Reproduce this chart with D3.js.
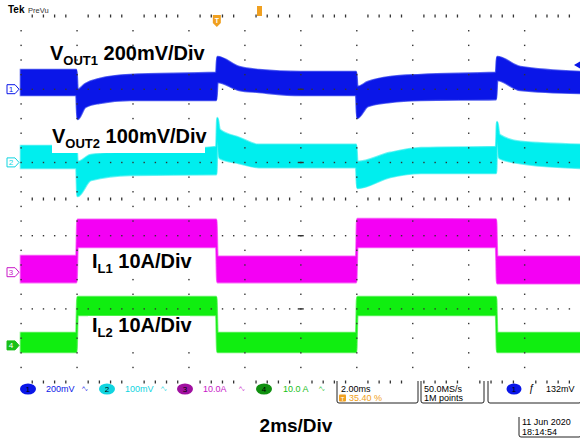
<!DOCTYPE html>
<html>
<head>
<meta charset="utf-8">
<title>Scope capture</title>
<script src="https://cdn.jsdelivr.net/npm/d3@7"></script>
<style>
  body { margin: 0; background: #fff; }
  svg { display: block; }
  .scope { font-family: "Liberation Sans", Arial, sans-serif; }
  .lbl { font-family: "Liberation Sans", Arial, sans-serif; font-weight: bold; fill: #000; }
</style>
</head>
<body>
<script>
// time in ms (2 ms/div), channel values in their own units
var ch1Time = [0, 1.98, 2.02, 2.3, 2.8, 3.9, 6.98, 7.02, 7.8, 8.5, 10, 11.98, 12.02, 12.4, 13.2, 14.3, 16.98, 17.02, 17.85, 20];
var ch1Max  = [105, 105, -4, 28, 56, 78, 89, 176, 121, 105, 94, 94, 12, 39, 67, 78, 89, 176, 121, 94];   // mV
var ch1Min  = [-32, -32, -163, -97, -75, -59, -59, 39, -4, -15, -32, -32, -157, -92, -70, -59, -54, 50, -4, -21];

var ch2Time = [0, 1.98, 2.02, 2.5, 3.9, 6.98, 7.02, 7.1, 7.8, 8.5, 11.98, 12.02, 13.2, 14.3, 16.98, 17.02, 17.1, 17.85, 20];
var ch2Max  = [45, 45, 1, 20, 28, 42, 121, 89, 67, 48, 48, 1, 26, 39, 42, 110, 75, 56, 48];   // mV
var ch2Min  = [-15, -15, -92, -48, -34, -32, 61, 12, -2, -13, -13, -70, -40, -29, -29, 61, 12, -2, -15];

var ilTime = [0, 1.98, 2.02, 6.98, 7.02, 11.98, 12.02, 16.98, 17.02, 20];
var ch3Max = [4.4, 4.4, 14.3, 14.3, 4.2, 4.2, 14.5, 14.4, 4.2, 4.2];   // A
var ch3Min = [-2.7, -2.7, 6.9, 6.9, -2.7, -2.7, 6.9, 6.9, -3.0, -3.0];
var ch4Max = [3.4, 3.4, 13.2, 13.2, 3.4, 3.4, 13.2, 13.2, 3.4, 3.4];   // A
var ch4Min = [-1.8, -1.8, 8.3, 8.3, -1.8, -1.8, 8.3, 8.3, -1.8, -1.8];

var chNames  = ["1", "2", "3", "4"];
var chScales = ["200mV", "100mV", "10.0A", "10.0 A"];
var trigLevel = 132; // mV on ch1

var width = 580, height = 439;

// screen: 10 divisions across, 10 divisions high
var x = d3.scaleLinear().domain([0, 20]).range([21, 580.5]);
var y = d3.scaleLinear().domain([-5, 5]).range([382, 16]);

var channels = [
  {t: ch1Time, max: ch1Max, min: ch1Min, off: 3,  perDiv: 200, color: "#0a16e8", edge: "#5a66f0", dark: "#0a16e8"},
  {t: ch2Time, max: ch2Max, min: ch2Min, off: 1,  perDiv: 100, color: "#00eeee", edge: "#70f4f4", dark: "#10d4e0"},
  {t: ilTime,  max: ch3Max, min: ch3Min, off: -2, perDiv: 10,  color: "#f400f4", edge: "#f870f8", dark: "#c818c8"},
  {t: ilTime,  max: ch4Max, min: ch4Min, off: -4, perDiv: 10,  color: "#10ee10", edge: "#78f478", dark: "#18c018"}
];

var svg = d3.select("body").append("svg")
    .attr("width", width)
    .attr("height", height)
    .attr("class", "scope");

// traces (lighter fringe underneath for the noisy edge)
channels.forEach(function(c) {
  var pts = c.t.map(function(t, i) { return {t: t, hi: c.max[i], lo: c.min[i]}; });
  var area = d3.area()
      .x(function(d) { return x(d.t); })
      .y0(function(d) { return y(c.off + d.lo / c.perDiv); })
      .y1(function(d) { return y(c.off + d.hi / c.perDiv); })
      .curve(d3.curveMonotoneX);
  svg.append("path")
      .datum(pts)
      .attr("d", area)
      .attr("fill", c.edge)
      .attr("stroke", c.edge)
      .attr("stroke-width", 2.6);
  svg.append("path")
      .datum(pts)
      .attr("d", area)
      .attr("fill", c.color)
      .attr("stroke", c.color)
      .attr("stroke-width", 0.8);
});

// graticule
var grid = svg.append("g").attr("fill", "#333");
var majorT = d3.range(0, 20, 2);
var minorT = d3.range(0, 50).map(function(k) { return k * 0.4; }).filter(function(t) { return Math.abs(t / 2 - Math.round(t / 2)) > 0.01; });
var vDots = d3.range(1, 25).map(function(n) { return 5 - 0.4 * n; });

majorT.forEach(function(t) {
  vDots.forEach(function(v) {
    grid.append("rect").attr("x", x(t) - 0.6).attr("y", y(v) - 0.6).attr("width", 1.4).attr("height", 1.4);
  });
});
[3, 1, -1, -3].forEach(function(v) {
  minorT.forEach(function(t) {
    grid.append("rect").attr("x", x(t) - 0.6).attr("y", y(v) - 0.6).attr("width", 1.4).attr("height", 1.4);
  });
  grid.append("rect").attr("x", x(10) - 3).attr("y", y(v) - 0.6).attr("width", 6).attr("height", 1.4);
});
[5, 0, -5].forEach(function(v) {
  minorT.forEach(function(t) {
    grid.append("rect").attr("x", x(t) - 0.6).attr("y", y(v) - 1.5).attr("width", 1.3).attr("height", 3);
  });
});

// channel labels with white boxes
var labels = [
  {main: "V", sub: "OUT1", rest: " 200mV/Div", x: 50, y: 60, box: null},
  {main: "V", sub: "OUT2", rest: " 100mV/Div", x: 52, y: 143, box: [52, 126, 153, 27]},
  {main: "I", sub: "L1", rest: " 10A/Div", x: 92, y: 268, box: [88, 249, 102, 26]},
  {main: "I", sub: "L2", rest: " 10A/Div", x: 92, y: 332, box: [88, 316, 102, 23]}
];
labels.forEach(function(l) {
  if (l.box) {
    svg.append("rect").attr("x", l.box[0]).attr("y", l.box[1]).attr("width", l.box[2]).attr("height", l.box[3]).attr("fill", "#fff");
  }
  var t = svg.append("text").attr("class", "lbl").attr("x", l.x).attr("y", l.y).attr("font-size", 20);
  t.append("tspan").text(l.main);
  t.append("tspan").attr("font-size", 13).attr("dy", 5).text(l.sub);
  t.append("tspan").attr("dy", -5).text(l.rest);
});

// ground markers on the left
channels.forEach(function(c, i) {
  var yy = y(c.off);
  svg.append("path")
      .attr("d", "M7," + (yy - 4.5) + "H15L19," + yy + "L15," + (yy + 4.5) + "H7Z")
      .attr("fill", i == 3 ? c.dark : "#fff")
      .attr("stroke", c.dark)
      .attr("stroke-width", 1);
  svg.append("text").attr("x", 11).attr("y", yy + 3).attr("text-anchor", "middle")
      .attr("font-size", 8).attr("fill", i == 3 ? "#fff" : c.dark).text(chNames[i]);
});

// trigger level marker at right edge
var ty = y(channels[0].off + trigLevel / channels[0].perDiv);
svg.append("path").attr("d", "M574," + ty + "L580," + (ty - 3.5) + "V" + (ty + 3.5) + "Z").attr("fill", "#0a16e8");

// top bar
svg.append("text").attr("x", 8).attr("y", 13).attr("font-size", 10).attr("font-weight", "bold").text("Tek");
svg.append("text").attr("x", 28).attr("y", 13).attr("font-size", 7.5).attr("fill", "#333").text("PreVu");
var trigX = x(7);
svg.append("path").attr("d", "M" + (trigX - 4) + ",15H" + (trigX + 4) + "V23L" + trigX + ",27L" + (trigX - 4) + ",23Z").attr("fill", "#f0a020");
svg.append("text").attr("x", trigX).attr("y", 23).attr("text-anchor", "middle").attr("font-size", 7).attr("font-weight", "bold").attr("fill", "#fff").text("T");
svg.append("rect").attr("x", 257).attr("y", 6).attr("width", 5).attr("height", 10).attr("fill", "#f0a020");

// bottom readout
var ovalX = [28, 107, 185, 264];
var textX = [46, 125, 203, 283];
channels.forEach(function(c, i) {
  svg.append("ellipse").attr("cx", ovalX[i]).attr("cy", 389).attr("rx", 8).attr("ry", 5.5)
      .attr("fill", i == 2 ? "#a010a0" : (i == 3 ? "#109010" : c.dark));
  svg.append("text").attr("x", ovalX[i]).attr("y", 392).attr("text-anchor", "middle")
      .attr("font-size", 8).attr("fill", "#000").text(chNames[i]);
  svg.append("text").attr("x", textX[i]).attr("y", 392).attr("font-size", 9).attr("fill", c.dark).text(chScales[i]);
  svg.append("text").attr("x", textX[i] + 36).attr("y", 391).attr("font-size", 7).attr("fill", c.dark).text("ᴬᵥ");
});

function frame(x0, x1, y0, y1) {
  svg.append("path")
      .attr("d", "M" + x0 + "," + y0 + "V" + (y1 - 2) + "Q" + x0 + "," + y1 + " " + (x0 + 2) + "," + y1 +
                 "H" + (x1 - 2) + "Q" + x1 + "," + y1 + " " + x1 + "," + (y1 - 2) + "V" + y0)
      .attr("fill", "none").attr("stroke", "#222").attr("stroke-width", 1);
}
frame(337, 418, 381, 403);
frame(421, 484, 381, 403);
frame(488, 581, 381, 403);
frame(519, 581, 417, 437);

svg.append("text").attr("x", 341).attr("y", 392).attr("font-size", 9).text("2.00ms");
svg.append("rect").attr("x", 339).attr("y", 394.5).attr("width", 7).attr("height", 7).attr("rx", 1).attr("fill", "#f0a020");
svg.append("text").attr("x", 342.5).attr("y", 400.5).attr("text-anchor", "middle").attr("font-size", 6).attr("fill", "#fff").text("T");
svg.append("text").attr("x", 349).attr("y", 401).attr("font-size", 9).attr("fill", "#f0a020").text("35.40 %");
svg.append("text").attr("x", 424).attr("y", 392).attr("font-size", 9).text("50.0MS/s");
svg.append("text").attr("x", 424).attr("y", 401).attr("font-size", 9).text("1M points");
svg.append("ellipse").attr("cx", 514).attr("cy", 389).attr("rx", 7.5).attr("ry", 5.5).attr("fill", "#0a16e8");
svg.append("text").attr("x", 514).attr("y", 392).attr("text-anchor", "middle").attr("font-size", 8).text("1");
svg.append("text").attr("x", 529).attr("y", 392).attr("font-size", 10).text("ƒ");
svg.append("text").attr("x", 546).attr("y", 392).attr("font-size", 9).text("132mV");
svg.append("text").attr("x", 522).attr("y", 425).attr("font-size", 9).text("11 Jun 2020");
svg.append("text").attr("x", 522).attr("y", 435).attr("font-size", 9).text("18:14:54");

// time base label
svg.append("text").attr("class", "lbl").attr("x", 296).attr("y", 432).attr("text-anchor", "middle")
    .attr("font-size", 19).text("2ms/Div");
</script>
</body>
</html>
